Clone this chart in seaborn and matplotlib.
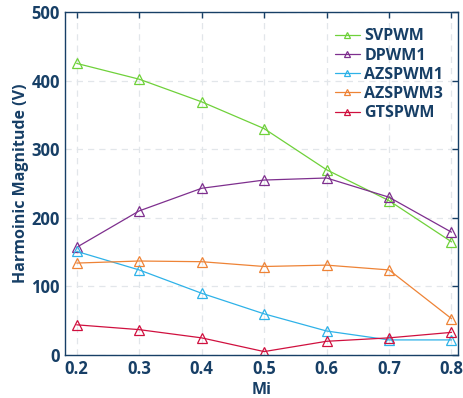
import pandas as pd
import numpy as np
import matplotlib
matplotlib.use('Agg')
import matplotlib.pyplot as plt
import seaborn as sns

# Data
mi = [0.2, 0.3, 0.4, 0.5, 0.6, 0.7, 0.8]
svpwm = [425, 402, 369, 330, 270, 225, 165]
dpwm1 = [157, 210, 243, 255, 258, 230, 179]
azspwm1 = [151, 124, 90, 60, 35, 22, 22]
azspwm3 = [134, 137, 136, 129, 131, 124, 53]
gtspwm = [44, 37, 25, 5, 20, 25, 33]

series = ['SVPWM', 'DPWM1', 'AZSPWM1', 'AZSPWM3', 'GTSPWM']
colors = ['#6fd13a', '#7e2f8e', '#2eb2e8', '#ee8336', '#d0103f']

df = pd.DataFrame({'Mi': mi, 'SVPWM': svpwm, 'DPWM1': dpwm1,
                   'AZSPWM1': azspwm1, 'AZSPWM3': azspwm3, 'GTSPWM': gtspwm})
long = df.melt(id_vars='Mi', var_name='Method', value_name='Mag')

sns.set_style('white')
plt.rcParams['font.family'] = ['Open Sans', 'DejaVu Sans']
plt.rcParams['font.weight'] = 'bold'
navy = '#173f66'

fig, ax = plt.subplots(figsize=(4.63, 3.98), dpi=100)
sns.lineplot(data=long, x='Mi', y='Mag', hue='Method', hue_order=series,
             palette=colors, marker='^', markersize=7.5, markerfacecolor='none',
             markeredgewidth=0.9, linewidth=0.9, ax=ax)
for line, c in zip(ax.lines, colors):
    line.set_markeredgecolor(c)

ax.set_xlim(0.181, 0.811)
ax.set_ylim(0, 500)
ax.set_xticks(mi)
ax.set_yticks([0, 100, 200, 300, 400, 500])
ax.grid(True, linestyle=(0, (5, 4)), color='#e2e6ea', linewidth=0.9)
ax.tick_params(direction='in', top=True, right=True, length=4, width=1,
               colors=navy, labelsize=12, labelcolor=navy)
for lab in ax.get_xticklabels() + ax.get_yticklabels():
    lab.set_fontweight('bold')
for s in ax.spines.values():
    s.set_color(navy)
    s.set_linewidth(1)
ax.set_xlabel('Mi', fontsize=11.5, fontweight='bold', color=navy, labelpad=3)
ax.set_ylabel('Harmoinic Magnitude (V)', fontsize=11.5, fontweight='bold', color=navy,
              labelpad=2)

leg = ax.legend(loc='upper right', frameon=False, fontsize=11.5, handlelength=1.6,
                handletextpad=0.25, labelspacing=0.2, markerscale=0.65,
                bbox_to_anchor=(0.998, 0.994))
for t in leg.get_texts():
    t.set_color(navy)
    t.set_fontweight('bold')
for h, c in zip(leg.legend_handles, colors):
    h.set_markerfacecolor('none')
    h.set_markeredgecolor(c)

plt.subplots_adjust(left=0.14, right=0.99, top=0.97, bottom=0.108)
plt.savefig('out.png', dpi=100)
